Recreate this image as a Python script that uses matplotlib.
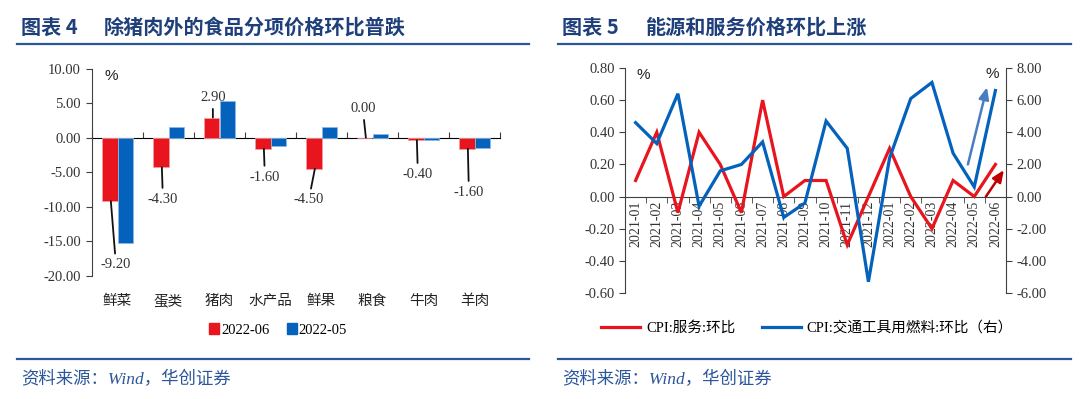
import numpy as np
import matplotlib.pyplot as plt
from matplotlib.patches import Patch
from matplotlib.lines import Line2D

plt.rcParams['font.family'] = ['Liberation Serif', 'Noto Sans CJK SC', 'DejaVu Sans']
plt.rcParams['axes.unicode_minus'] = False

# ---- chart 4: food items, m/m %
foods = ['鲜菜', '蛋类', '猪肉', '水产品', '鲜果', '粮食', '牛肉', '羊肉']
jun22 = [-9.2, -4.3, 2.9, -1.6, -4.5, 0.0, -0.4, -1.6]
may22 = [-15.3, 1.6, 5.3, -1.2, 1.6, 0.6, -0.3, -1.5]
# where the data labels of the red bars sit (x shift in categories, y in %)
lab_dx = [-0.03, -0.11, -0.13, -0.11, -0.25, -0.19, -0.11, -0.11]
lab_y = [-18.4, -8.9, 5.8, -5.7, -9.0, 4.2, -5.3, -7.9]

# ---- chart 5: services vs fuel, m/m %
months = ['2021-01', '2021-02', '2021-03', '2021-04', '2021-05', '2021-06',
          '2021-07', '2021-08', '2021-09', '2021-10', '2021-11', '2021-12',
          '2022-01', '2022-02', '2022-03', '2022-04', '2022-05', '2022-06']
services = [0.1, 0.4, -0.1, 0.4, 0.2, -0.1, 0.6, 0.0, 0.1, 0.1, -0.3, 0.0,
            0.3, 0.0, -0.2, 0.1, 0.0, 0.2]
fuel = [4.6, 3.3, 6.4, -0.6, 1.6, 2.0, 3.4, -1.3, -0.4, 4.7, 3.0, -5.3,
        2.4, 6.1, 7.1, 2.7, 0.6, 6.6]

RED = '#E8141E'
BLUE = '#0462BC'
NAVY = '#1F3F7A'
RULE = '#2B569A'
AXC = '#404040'

W, H = 1080, 399
fig = plt.figure(figsize=(W / 100, H / 100), dpi=100)


def fx(px):
    return px / W


def fy(py):
    return 1 - py / H


# headers, rules and source lines
for x0, x1, num, title in [(17, 529, '4', '除猪肉外的食品分项价格环比普跌'),
                           (558, 1071, '5', '能源和服务价格环比上涨')]:
    fig.text(fx(x0 + 4), fy(27), '图表 ' + num, fontsize=14.5, fontweight='bold',
             color=NAVY, va='center', family=['Noto Sans CJK SC'])
    fig.text(fx(x0 + 87), fy(27), title, fontsize=14.5, fontweight='bold',
             color=NAVY, va='center', family=['Noto Sans CJK SC'])
    fig.add_artist(Line2D([fx(x0), fx(x1)], [fy(44), fy(44)], color=RULE, lw=1.6))
    fig.add_artist(Line2D([fx(x0), fx(x1)], [fy(359), fy(359)], color=RULE, lw=1.6))
    fig.text(fx(x0 + 4), fy(380), '资料来源：Wind，华创证券', fontsize=12.5,
             style='italic', color=RULE, va='center',
             family=['Liberation Serif', 'Noto Sans CJK SC'])

# ---------------- left chart
ax1 = fig.add_axes([fx(92), fy(276), fx(500 - 92), (276 - 68.5) / H])
x = np.arange(len(foods))
w = 0.3
ax1.bar(x - w / 2, jun22, w, color=RED, edgecolor='#F49A9E', linewidth=0.6,
        label='2022-06', zorder=2)
ax1.bar(x + w / 2, may22, w, color=BLUE, edgecolor='#8DB7E6', linewidth=0.6,
        label='2022-05', zorder=2)
ymin, ymax = -20, 10
ax1.set_ylim(ymin, ymax)
ax1.set_xlim(-0.5, len(foods) - 0.5)
ax1.set_yticks(np.arange(-20, 10.1, 5))
ax1.set_yticklabels(['%.2f' % v for v in np.arange(-20, 10.1, 5)])
ax1.set_xticks(x)
ax1.set_xticklabels(foods, family=['Noto Sans CJK SC'])
ax1.tick_params(axis='x', length=0, pad=13, labelsize=10.5, colors='#222222')
ax1.tick_params(axis='y', length=4, direction='out', labelsize=10.5,
                color=AXC, labelcolor='#333333', pad=4)
for s in ['top', 'right', 'bottom']:
    ax1.spines[s].set_visible(False)
ax1.spines['left'].set_color(AXC)
zero_ax = ax1.secondary_xaxis((0 - ymin) / (ymax - ymin))
zero_ax.set_xticks(np.arange(-0.5, len(foods), 1))
zero_ax.set_xticklabels([])
zero_ax.tick_params(length=4, direction='out', color=AXC)
zero_ax.spines['bottom'].set_color(AXC)
zero_ax.spines['bottom'].set_linewidth(1.0)

for i, v in enumerate(jun22):
    ax1.annotate('%.2f' % v, xy=(x[i] - w / 2 + 0.02, v),
                 xytext=(x[i] + lab_dx[i], lab_y[i]),
                 ha='center', va='center', fontsize=10.5, color='#333333',
                 arrowprops=dict(arrowstyle='-', color='#111111', lw=1.3,
                                 shrinkA=1.5, shrinkB=0), zorder=3)
ax1.text(0.03, 0.965, '%', transform=ax1.transAxes, fontsize=11,
         family=['Liberation Sans'], color='#222222', va='center')

fig.legend(handles=[Patch(color=RED, label='2022-06'),
                    Patch(color=BLUE, label='2022-05')],
           loc='center', bbox_to_anchor=(fx(278), fy(330)), ncol=2,
           frameon=False, fontsize=10.5, handlelength=0.7, handleheight=0.7,
           handletextpad=0.1, columnspacing=1.2)

# ---------------- right chart
ax2 = fig.add_axes([fx(625), fy(293), fx(1006 - 625), (293 - 68) / H])
ax3 = ax2.twinx()
t = np.arange(len(months))
ax2.plot(t, services, color=RED, lw=2.3, solid_joinstyle='miter', zorder=3)
ax3.plot(t, fuel, color=BLUE, lw=2.3, solid_joinstyle='miter', zorder=3)
ax2.set_xlim(-0.5, len(months) - 0.5)
ax2.set_ylim(-0.6, 0.8)
ax3.set_ylim(-6, 8)
lt = np.arange(-0.6, 0.81, 0.2)
ax2.set_yticks(lt)
ax2.set_yticklabels(['%.2f' % v for v in lt])
rt = np.arange(-6, 8.1, 2)
ax3.set_yticks(rt)
ax3.set_yticklabels(['%.2f' % v for v in rt])
ax2.spines['bottom'].set_position(('data', 0))
ax2.set_xticks(t)
ax2.set_xticklabels(months, rotation=90, va='top')
ax2.set_xticks(np.arange(-0.5, len(months), 1), minor=True)
ax2.tick_params(axis='x', which='major', length=0, pad=3, labelsize=10,
                labelcolor='#333333')
ax2.tick_params(axis='x', which='minor', length=4, direction='out', color=AXC)
ax2.tick_params(axis='y', length=4, direction='out', labelsize=10.5,
                color=AXC, labelcolor='#333333')
ax3.tick_params(axis='y', length=4, direction='out', labelsize=10.5,
                color=AXC, labelcolor='#333333')
for s in ['top', 'right']:
    ax2.spines[s].set_visible(False)
for s in ['top', 'bottom', 'left']:
    ax3.spines[s].set_visible(False)
ax2.spines['left'].set_color(AXC)
ax2.spines['bottom'].set_color(AXC)
ax3.spines['right'].set_color(AXC)

ax3.annotate('', xy=(16.6, 6.8), xytext=(15.7, 2.0),
             arrowprops=dict(arrowstyle='-|>,head_length=0.7,head_width=0.3',
                             color='#4A7CC2', lw=1.8, shrinkA=0, shrinkB=0))
ax2.annotate('', xy=(17.4, 0.165), xytext=(16.55, 0.0),
             arrowprops=dict(arrowstyle='-|>,head_length=0.7,head_width=0.3',
                             color='#C00000', lw=1.8, shrinkA=0, shrinkB=0))
ax2.text(0.03, 0.97, '%', transform=ax2.transAxes, fontsize=11,
         family=['Liberation Sans'], color='#222222', va='center')
ax2.text(0.963, 0.975, '%', transform=ax2.transAxes, fontsize=11,
         family=['Liberation Sans'], color='#222222', va='center', ha='center')

fig.legend(handles=[Line2D([], [], color=RED, lw=2.3, label='CPI:服务:环比'),
                    Line2D([], [], color=BLUE, lw=2.3,
                           label='CPI:交通工具用燃料:环比（右）')],
           loc='center', bbox_to_anchor=(fx(807), fy(328)), ncol=2,
           frameon=False, fontsize=10.5, handlelength=2.7,
           handletextpad=0.4, columnspacing=1.8)

fig.savefig('out.png', dpi=100)
